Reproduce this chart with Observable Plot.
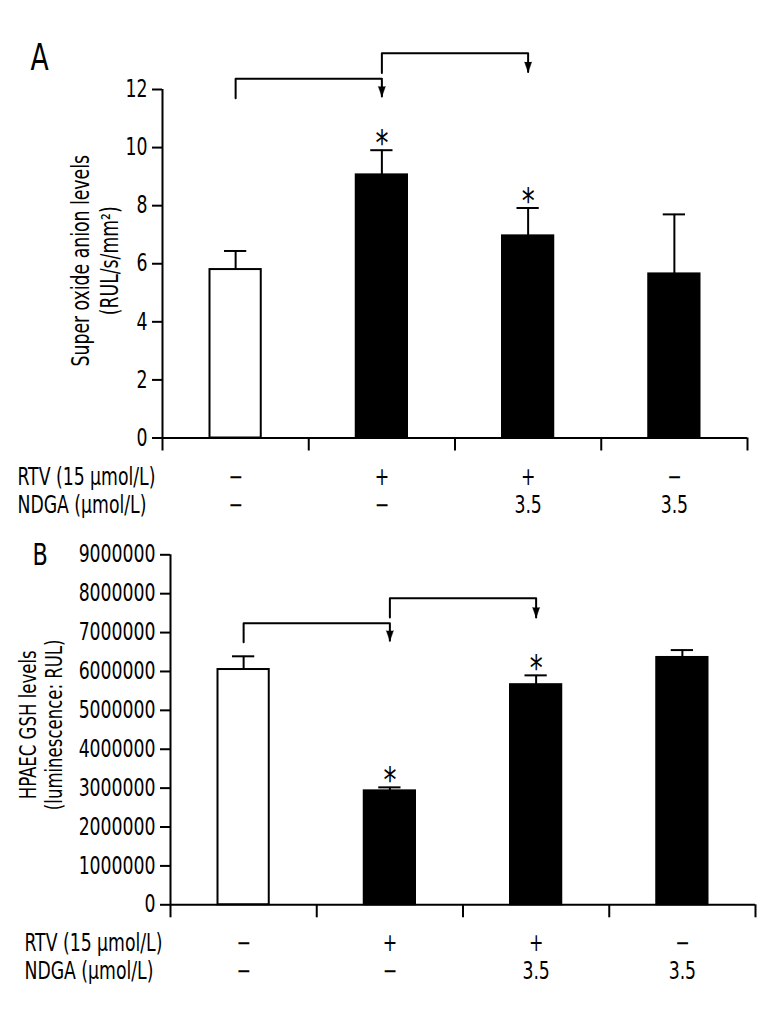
<!DOCTYPE html>
<html><head><meta charset="utf-8">
<script src="https://cdn.jsdelivr.net/npm/d3@7"></script>
<script src="https://cdn.jsdelivr.net/npm/@observablehq/plot@0.6"></script>
<style>
body{margin:0;background:#fff;}
#chart svg{display:block;}
</style></head><body><div id="chart"></div>
<script>
// ---- data ----
const groupIndex = [0, 1, 2, 3];
const rowNames = ["RTV (15 µmol/L)", "NDGA (µmol/L)"];
const rtvRow = ["−", "+", "+", "−"];
const ndgaRow = ["−", "−", "3.5", "3.5"];
const groupFill = ["white", "black", "black", "black"];
const significant = [false, true, true, false];

const superoxideMean = [5.8, 9.06, 6.96, 5.65];
const superoxideErr = [0.64, 0.85, 0.96, 2.05];
const superoxideTicks = [0, 2, 4, 6, 8, 10, 12];
const superoxideTitle = "Super oxide anion levels\n(RUL/s/mm²)";

const gshMean = [6050000, 2930000, 5660000, 6360000];
const gshErr = [340000, 90000, 240000, 190000];
const gshTicks = [0, 1000000, 2000000, 3000000, 4000000, 5000000, 6000000, 7000000, 8000000, 9000000];
const gshTitle = "HPAEC GSH levels\n(luminescence: RUL)";

// comparison brackets: from group -> to group
const bracketFrom = [0, 1];
const bracketTo = [1, 2];
const bracketA_start = [11.7, 12.57];
const bracketA_top = [12.37, 13.25];
const bracketA_end = [11.76, 12.6];
const bracketB_start = [6.75e6, 7.39e6];
const bracketB_top = [7.24e6, 7.88e6];
const bracketB_end = [6.79e6, 7.39e6];

const FONT = '"DejaVu Sans Condensed", "DejaVu Sans", sans-serif';
const NARROW = 0.8; // horizontal condensing of text glyphs

function panel(cfg) {
  const data = groupIndex.map(i => ({
    i, mean: cfg.mean[i], err: cfg.err[i], fill: groupFill[i],
    sig: significant[i], rtv: rtvRow[i], ndga: ndgaRow[i]
  }));
  const brackets = bracketFrom.map((f, k) => ({
    k, from: f, to: bracketTo[k], y0: cfg.bStart[k], yt: cfg.bTop[k], y1: cfg.bEnd[k]
  }));
  const pts = brackets.flatMap(b => [
    {k: b.k, x: b.from + 0.5, y: b.y0},
    {k: b.k, x: b.from + 0.5, y: b.yt},
    {k: b.k, x: b.to + 0.5, y: b.yt},
    {k: b.k, x: b.to + 0.5, y: b.y1}
  ]);
  const yMax = cfg.ticks[cfg.ticks.length - 1];
  const svg = Plot.plot({
    width: 771,
    height: cfg.height,
    marginTop: cfg.mt, marginBottom: cfg.mb, marginLeft: cfg.ml, marginRight: cfg.mr,
    style: {fontFamily: FONT, fontSize: "24px", color: "black", background: "white"},
    x: {domain: [0, 4]},
    y: {domain: [0, yMax]},
    color: {type: "identity"},
    marks: [
      Plot.rectY(data, {x1: d => d.i, x2: d => d.i + 1, y1: 0, y2: d => d.mean,
        insetLeft: 47.5, insetRight: 47.5, fill: d => d.fill, stroke: "black", strokeWidth: 2}),
      Plot.ruleX(data, {x: d => d.i + 0.5, y1: d => d.mean, y2: d => d.mean + d.err, strokeWidth: 2}),
      Plot.ruleY(data, {y: d => d.mean + d.err, x1: d => d.i, x2: d => d.i + 1,
        insetLeft: 62, insetRight: 62, strokeWidth: 2}),
      Plot.text(data.filter(d => d.sig), {x: d => d.i + 0.5, y: d => d.mean + d.err,
        text: () => "*", fontSize: 36, lineAnchor: "middle", dy: -6.5}),
      Plot.ruleY([0], {x1: 0, x2: 4, strokeWidth: 2}),
      Plot.ruleX([0], {y1: 0, y2: yMax, strokeWidth: 2}),
      Plot.axisX({ticks: [0, 1, 2, 3, 4], tickSize: 13, tickFormat: () => "", strokeWidth: 2, label: null}),
      Plot.axisY({ticks: cfg.ticks, tickSize: 10, tickPadding: 5, strokeWidth: 2, label: null,
        fontSize: 24, tickFormat: d => String(d)}),
      Plot.line(pts, {x: "x", y: "y", z: "k", stroke: "black", strokeWidth: 2}),
      Plot.vector(brackets, {x: d => d.to + 0.5, y: d => d.y1, shape: "spike", length: 10, r: 3.5,
        rotate: 180, anchor: "end", fill: "black", stroke: "black", strokeWidth: 0.5}),
      Plot.text([rowNames[0]], {x: 0, y: 0, text: d => d, textAnchor: "start", dx: cfg.rowDx, dy: cfg.row1, lineAnchor: "middle", fontSize: 24}),
      Plot.text([rowNames[1]], {x: 0, y: 0, text: d => d, textAnchor: "start", dx: cfg.rowDx, dy: cfg.row2, lineAnchor: "middle", fontSize: 24}),
      Plot.text(data, {x: d => d.i + 0.5, y: 0, text: "rtv", dy: cfg.row1, lineAnchor: "middle", fontSize: 24}),
      Plot.text(data, {x: d => d.i + 0.5, y: 0, text: "ndga", dy: cfg.row2, lineAnchor: "middle", fontSize: 24}),
      Plot.text([cfg.title], {frameAnchor: "left", rotate: -90, dx: cfg.titleDx, dy: cfg.titleDy,
        lineAnchor: "middle", textAnchor: "middle", lineHeight: cfg.titleLH, fontSize: cfg.titleSize}),
      Plot.text([cfg.letter], {frameAnchor: "top-left", textAnchor: "start", lineAnchor: "middle",
        dx: cfg.letterDx, dy: cfg.letterDy, fontSize: cfg.letterSize})
    ]
  });
  // condense glyphs horizontally (along each text's own direction)
  svg.querySelectorAll("text").forEach(el => {
    const t = el.getAttribute("transform");
    if (t) el.setAttribute("transform", t + ` scale(${NARROW},1)`);
    else {
      const x = +(el.getAttribute("x") || 0), y = +(el.getAttribute("y") || 0);
      el.removeAttribute("x"); el.removeAttribute("y");
      el.setAttribute("transform", `translate(${x},${y}) scale(${NARROW},1)`);
    }
  });
  return svg;
}

const chartA = panel({
  mean: superoxideMean, err: superoxideErr, ticks: superoxideTicks, title: superoxideTitle,
  bStart: bracketA_start, bTop: bracketA_top, bEnd: bracketA_end,
  height: 520, mt: 89, mb: 82.5, ml: 162, mr: 24,
  rowDx: -145, row1: 39, row2: 67.5,
  titleDx: -68.5, titleDy: -3, titleLH: 1.2, titleSize: 24,
  letter: "A", letterDx: -132, letterDy: -31, letterSize: 37
});
const chartB = panel({
  mean: gshMean, err: gshErr, ticks: gshTicks, title: gshTitle,
  bStart: bracketB_start, bTop: bracketB_top, bEnd: bracketB_end,
  height: 508, mt: 34.3, mb: 123.7, ml: 170, mr: 16,
  rowDx: -146, row1: 38.7, row2: 66.4,
  titleDx: -130, titleDy: -5, titleLH: 1.15, titleSize: 23,
  letter: "B", letterDx: -138, letterDy: 0, letterSize: 31
});
document.getElementById("chart").append(chartA, chartB);
</script>
</body></html>
